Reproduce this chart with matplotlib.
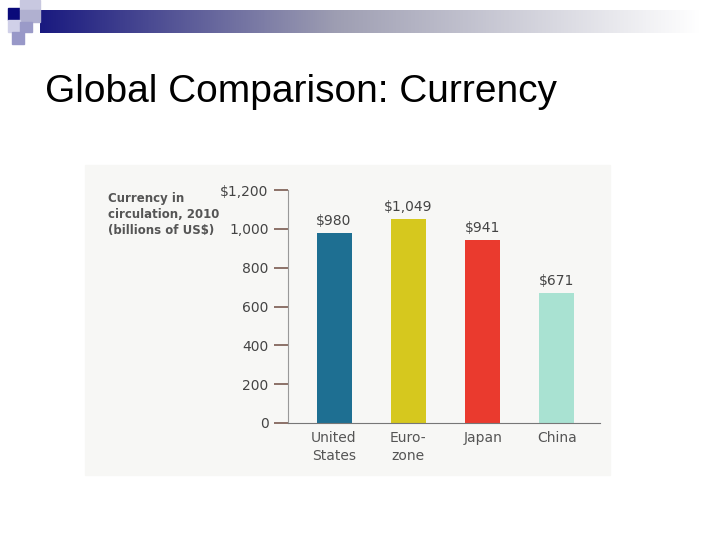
import matplotlib
matplotlib.use("Agg")
import matplotlib.pyplot as plt
from matplotlib.patches import Rectangle
import numpy as np

categories = ["United\nStates", "Euro-\nzone", "Japan", "China"]
values = [980, 1049, 941, 671]
value_labels = ["$980", "$1,049", "$941", "$671"]
colors = ["#1e6f92", "#d6c81e", "#ea3a2e", "#a9e2d2"]
yticks = [0, 200, 400, 600, 800, 1000, 1200]
ytick_labels = ["0", "200", "400", "600", "800", "1,000", "$1,200"]

fig = plt.figure(figsize=(7.2, 5.4), dpi=100)
fig.patch.set_facecolor("white")

# header gradient bar
gax = fig.add_axes([40/720, 1-33/540, 660/720, 23/540])
grad = np.linspace(0, 1, 256)
start = np.array([0.10, 0.10, 0.50]); mid = np.array([0.62, 0.62, 0.70]); end = np.array([1, 1, 1])
img = np.where(grad[:, None] < 0.45,
               start[None, :] + (mid - start)[None, :] * (grad[:, None] / 0.45),
               mid[None, :] + (end - mid)[None, :] * ((grad[:, None] - 0.45) / 0.55))
gax.imshow(img[None, :, :], aspect="auto")
gax.axis("off")
# corner squares
for (x, y, w, h, c) in [(8, 8, 12, 12, "#0a0a7a"), (20, 0, 20, 10, "#c8c8e0"),
                        (20, 10, 20, 12, "#b0b0d0"), (8, 20, 12, 12, "#d0d0e8"),
                        (20, 22, 12, 10, "#9a9ac8"), (12, 32, 12, 12, "#9898c8")]:
    fig.patches.append(Rectangle((x/720, 1-(y+h)/540), w/720, h/540,
                                 transform=fig.transFigure, color=c, zorder=5))

fig.text(45/720, 1-92/540, "Global Comparison: Currency", fontsize=28,
         family="Liberation Sans", va="center", ha="left", color="black")

# scanned background
fig.patches.append(Rectangle((85/720, 1-475/540), 525/720, 310/540,
                             transform=fig.transFigure, color="#f7f7f5", zorder=-10))

ax = fig.add_axes([288/720, 1-423/540, 312/720, 233/540])
ax.set_facecolor("none")
x = np.arange(len(categories))
ax.bar(x, values, width=0.47, color=colors, zorder=2)
for xi, v, lab in zip(x, values, value_labels):
    ax.text(xi, v + 25, lab, ha="center", va="bottom", fontsize=10, color="#444")
ax.set_xlim(-0.62, 3.58)
ax.set_ylim(0, 1200)
ax.set_yticks(yticks)
ax.set_yticklabels(ytick_labels, fontsize=10, color="#444")
ax.set_xticks(x)
ax.set_xticklabels(categories, fontsize=10, color="#555", va="top", linespacing=1.3)
ax.tick_params(axis="x", length=0, pad=6)
ax.tick_params(axis="y", length=10, width=1.2, color="#7a5a50", pad=4, direction="out")
for s in ["top", "right"]:
    ax.spines[s].set_visible(False)
ax.spines["left"].set_color("#999")
ax.spines["bottom"].set_color("#777")

fig.text(108/720, 1-214/540, "Currency in\ncirculation, 2010\n(billions of US$)",
         fontsize=8.5, fontweight="bold", color="#555", va="center", ha="left", linespacing=1.3)

fig.savefig("out.png", dpi=100)
